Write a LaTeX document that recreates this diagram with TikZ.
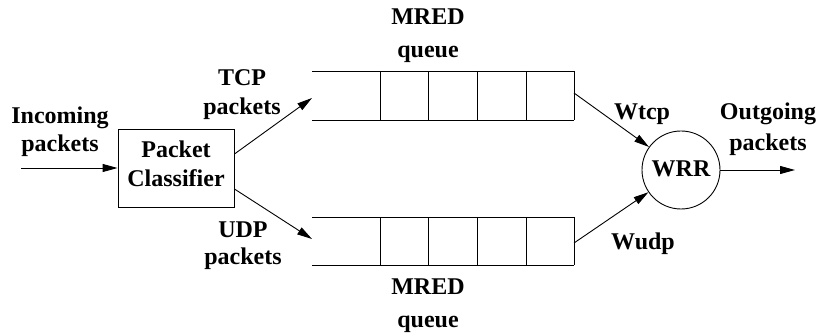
\documentclass[tikz,border=0pt]{standalone}
\usepackage{fontspec}
\setmainfont{Liberation Serif}
\usetikzlibrary{arrows.meta}
\tikzset{
  lbl/.style={font=\fontsize{24}{30}\selectfont\bfseries, inner sep=0pt, anchor=base},
  wire/.style={line width=0.9pt},
  arr/.style={wire, -{Triangle[length=15pt,width=8pt]}},
  box/.style={draw, line width=0.9pt, minimum width=116pt, minimum height=78pt, inner sep=0pt},
  sched/.style={draw, circle, line width=0.9pt, minimum size=78pt, inner sep=0pt}
}
\begin{document}
\begin{tikzpicture}[x=1pt, y=-1pt]
\useasboundingbox (0,0) rectangle (817,336);

% classifier and scheduler
\node[box] (cls) at (176,168) {};
\node[sched] (wrr) at (681,170) {};
\node[lbl] (lcls1) at (176,158) {Packet};
\node[lbl] (lcls2) at (176,187) {Classifier};
\node[lbl] (lwrr) at (681,177) {WRR};

% queue buffers (open on the left side)
\foreach \yt/\yb in {71/120, 217/265} {
  \draw[wire] (312,\yt) -- (574,\yt);
  \draw[wire] (312,\yb) -- (574,\yb);
  \foreach \x in {380,428,477,526,574}
    \draw[wire] (\x,\yt) -- (\x,\yb);
}

% connector end points
\coordinate (in) at (21,168);
\coordinate (out) at (795,170);
\coordinate (tqin) at (312,98);
\coordinate (bqin) at (312,239);
\coordinate (tqout) at (574,93);
\coordinate (bqout) at (574,243);

% connectors
\draw[arr] (in) -- (cls.west);
\draw[arr] ([yshift=14pt]cls.east) -- (tqin);
\draw[arr] ([yshift=-21pt]cls.east) -- (bqin);
\draw[arr] (tqout) -- (wrr);
\draw[arr] (bqout) -- (wrr);
\draw[arr] (wrr) -- (out);

% labels
\node[lbl] (linc1) at (60,124) {Incoming};
\node[lbl] (linc2) at (60,152) {packets};
\node[lbl] (ltcp1) at (242,86) {TCP};
\node[lbl] (ltcp2) at (242,115) {packets};
\node[lbl] (ludp1) at (243,238) {UDP};
\node[lbl] (ludp2) at (243,265) {packets};
\node[lbl] (lmt1) at (428,25) {MRED};
\node[lbl] (lmt2) at (428,58) {queue};
\node[lbl] (lmb1) at (428,295) {MRED};
\node[lbl] (lmb2) at (428,328) {queue};
\node[lbl] (lwt) at (642,120) {Wtcp};
\node[lbl] (lwu) at (643,250) {Wudp};
\node[lbl] (lout1) at (768,120) {Outgoing};
\node[lbl] (lout2) at (768,151) {packets};
\end{tikzpicture}
\end{document}
